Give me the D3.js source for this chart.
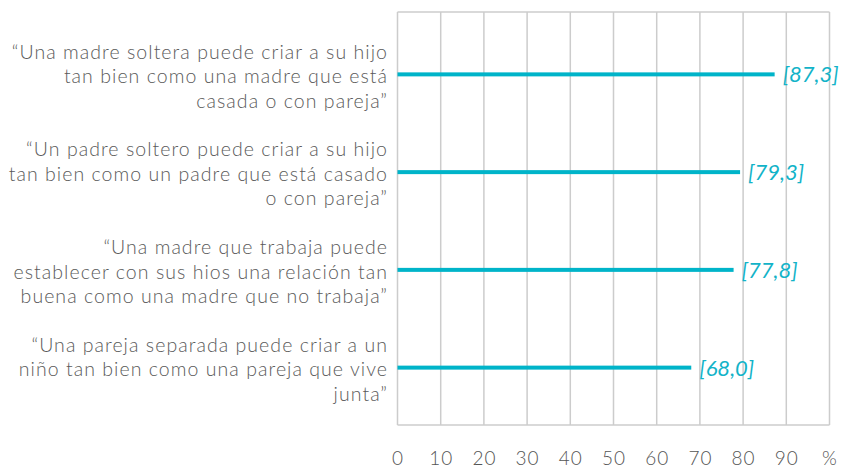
<!DOCTYPE html>
<html>
<head>
<meta charset="utf-8">
<script src="https://cdn.jsdelivr.net/npm/d3@7"></script>
<style>
  html, body { margin: 0; padding: 0; background: #fff; }
  svg { display: block; }
  .cat { font-family: Lato, "Open Sans", sans-serif; font-weight: 300; fill: #5a5a5a; }
  .tick-label { font-family: Lato, sans-serif; font-weight: 300; fill: #555; }
  .val { font-family: Lato, sans-serif; font-style: italic; font-weight: 400; fill: #12b3c8; }
</style>
</head>
<body>
<svg id="chart" width="841" height="470"></svg>
<script>
const categories = [
  ["“Una madre soltera puede criar a su hijo", "tan bien como una madre que está", "casada o con pareja”"],
  ["“Un padre soltero puede criar a su hijo", "tan bien como un padre que está casado", "o con pareja”"],
  ["“Una madre que trabaja puede", "establecer con sus hios una relación tan", "buena como una madre que no trabaja”"],
  ["“Una pareja separada puede criar a un", "niño tan bien como una pareja que vive", "junta”"]
];
const values = [87.3, 79.3, 77.8, 68.0];
const valueLabels = ["[87,3]", "[79,3]", "[77,8]", "[68,0]"];
const tickValues = [0, 10, 20, 30, 40, 50, 60, 70, 80, 90, 100];
const tickLabels = ["0", "10", "20", "30", "40", "50", "60", "70", "80", "90", "%"];

const svg = d3.select("#chart");
const mLeft = 397.5, mRight = 829.5, mTop = 12, mBottom = 425;

const x = d3.scaleLinear().domain([0, 100]).range([mLeft, mRight]);
const y = d3.scaleBand().domain(d3.range(categories.length)).range([25.5, 416.5]).padding(0);

// grid
svg.append("g").selectAll("line").data(tickValues).join("line")
  .attr("x1", d => x(d)).attr("x2", d => x(d))
  .attr("y1", mTop).attr("y2", mBottom)
  .attr("stroke", "#cccccc").attr("stroke-width", 1.5);
svg.append("line").attr("x1", mLeft).attr("x2", mRight).attr("y1", mTop).attr("y2", mTop)
  .attr("stroke", "#cccccc").attr("stroke-width", 1.5);
svg.append("line").attr("x1", mLeft).attr("x2", mRight).attr("y1", mBottom).attr("y2", mBottom)
  .attr("stroke", "#cccccc").attr("stroke-width", 1.5);

// x axis labels
const xAxis = d3.axisBottom(x).tickValues(tickValues)
  .tickFormat((d, i) => tickLabels[i]).tickSize(0).tickPadding(0);
const ax = svg.append("g").attr("transform", `translate(0, ${mBottom + 26})`).call(xAxis);
ax.select(".domain").remove();
ax.selectAll("text").attr("class", "tick-label").attr("font-size", 19).attr("fill", "#555")
  .style("font-family", "Lato, sans-serif").style("letter-spacing", "1px").attr("dy", "0.71em");

// bars
svg.append("g").selectAll("rect").data(values).join("rect")
  .attr("x", x(0))
  .attr("y", (d, i) => y(i) + y.bandwidth() / 2 - 2)
  .attr("width", d => x(d) - x(0))
  .attr("height", 4)
  .attr("fill", "#00b4c9");

// value labels
svg.append("g").selectAll("text").data(values).join("text")
  .attr("class", "val")
  .attr("x", d => x(d) + 8)
  .attr("y", (d, i) => y(i) + y.bandwidth() / 2)
  .attr("dy", "0.36em")
  .attr("font-size", 22)
  .text((d, i) => valueLabels[i]);

// category labels
const cg = svg.append("g").selectAll("text").data(categories).join("text")
  .attr("class", "cat")
  .attr("text-anchor", "end")
  .attr("font-size", 19.5)
  .style("letter-spacing", "1.05px")
  .attr("transform", (d, i) => `translate(388, ${y(i) + y.bandwidth() / 2 + 2})`);
cg.selectAll("tspan").data(d => d).join("tspan")
  .attr("x", 0)
  .attr("y", (d, j, arr) => (j - (arr.length - 1) / 2) * 24.5)
  .attr("dy", "0.35em")
  .text(d => d);
</script>
</body>
</html>
